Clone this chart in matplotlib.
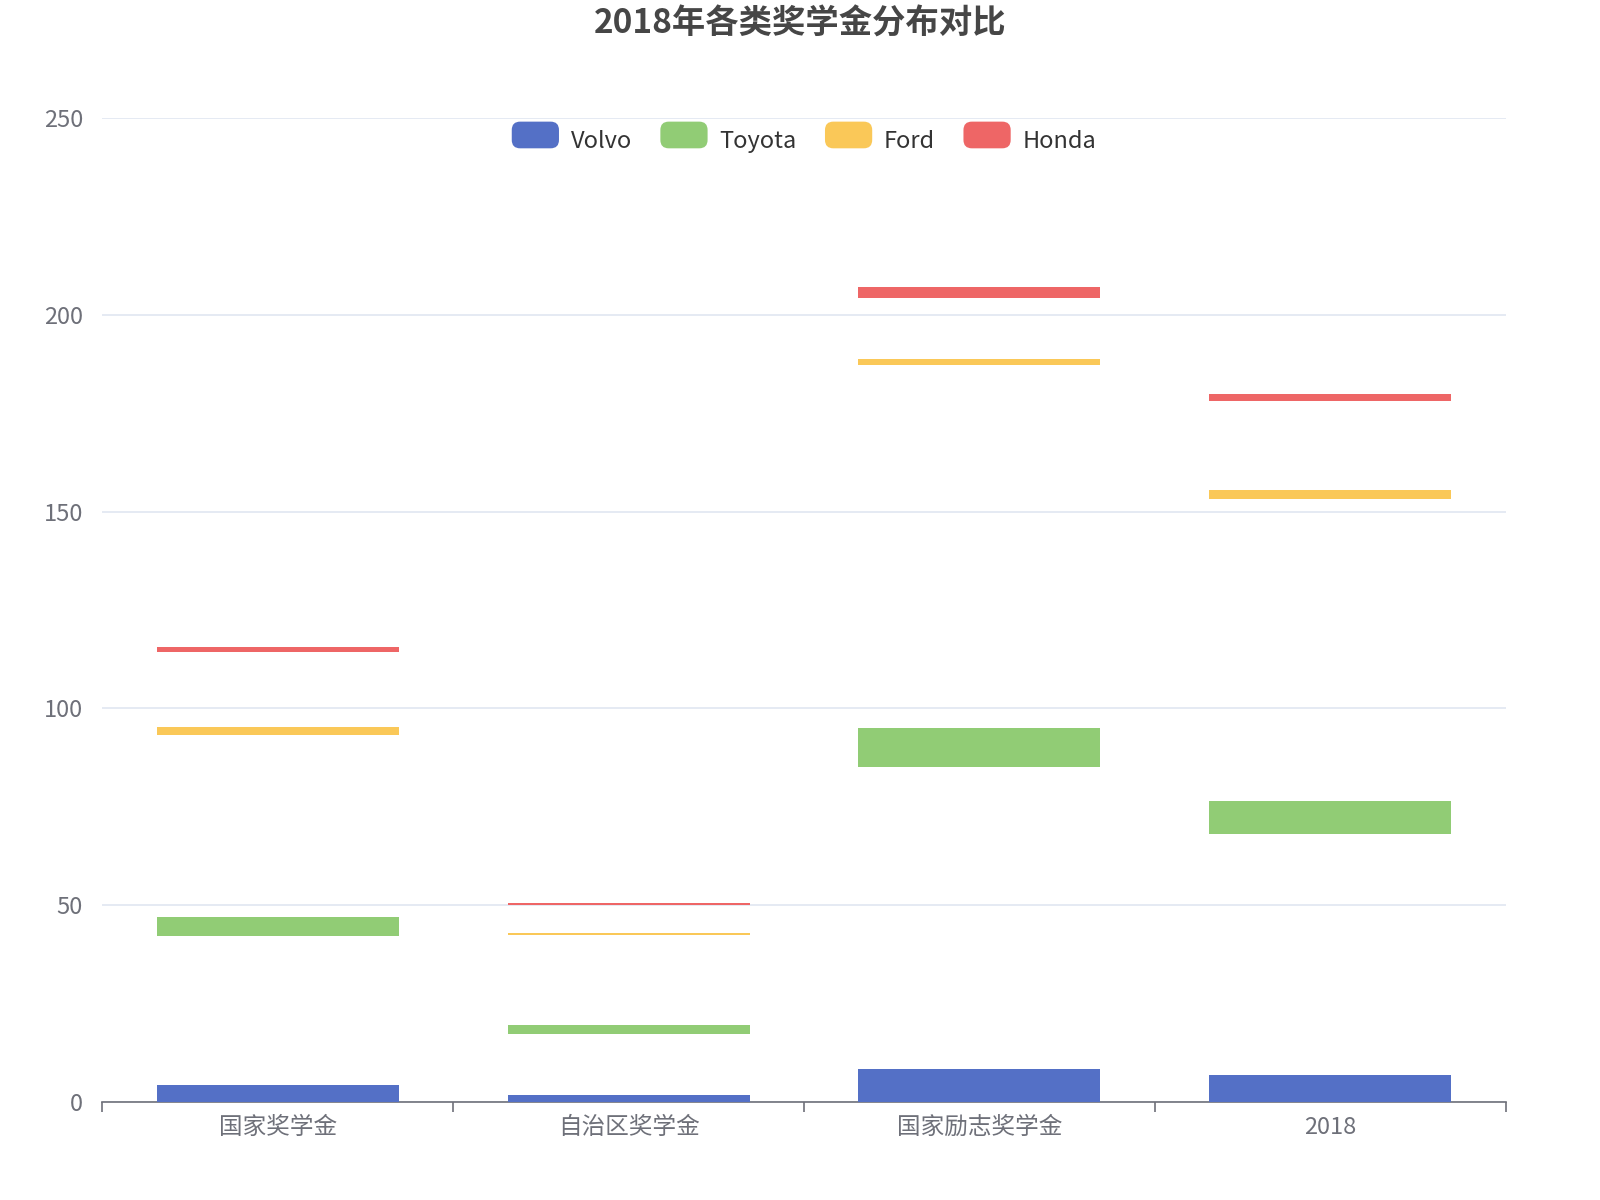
import matplotlib
matplotlib.use("Agg")
import matplotlib.pyplot as plt
from matplotlib.patches import FancyBboxPatch, Patch
from matplotlib.legend_handler import HandlerPatch

plt.rcParams['font.family'] = ['Noto Sans CJK SC', 'DejaVu Sans']

categories = ['国家奖学金', '自治区奖学金', '国家励志奖学金', '2018']
series = ['Volvo', 'Toyota', 'Ford', 'Honda']
colors = ['#5470c6', '#91cc75', '#fac858', '#ee6666']
bottoms = {
    'Volvo': [0, 0, 0, 0],
    'Toyota': [42.2, 17.3, 85.1, 68.1],
    'Ford': [93.2, 42.3, 187.2, 153.2],
    'Honda': [114.3, 50.0, 204.3, 178.1],
}
tops = {
    'Volvo': [4.3, 1.8, 8.4, 6.9],
    'Toyota': [47.0, 19.6, 95.0, 76.5],
    'Ford': [95.3, 42.9, 188.8, 155.5],
    'Honda': [115.6, 50.5, 207.1, 179.9],
}

fig = plt.figure(figsize=(16, 12), dpi=100)
ax = fig.add_axes([0.064, 0.0817, 0.877, 0.82])
x = list(range(len(categories)))
for s, c in zip(series, colors):
    h = [t - b for t, b in zip(tops[s], bottoms[s])]
    ax.bar(x, h, bottom=bottoms[s], width=0.69, color=c, edgecolor='none', linewidth=0, zorder=3)

ax.set_xlim(-0.5, 3.5)
ax.set_ylim(0, 250)
ax.set_yticks([0, 50, 100, 150, 200, 250])
ax.grid(axis='y', color='#e0e6f1', linewidth=1.2, zorder=0)
for sp in ['top', 'right', 'left']:
    ax.spines[sp].set_visible(False)
ax.spines['bottom'].set_color('#6e7079')
ax.spines['bottom'].set_linewidth(1.2)
ax.set_xticks(x)
ax.set_xticklabels(categories)
ax.set_xticks([-0.5, 0.5, 1.5, 2.5, 3.5], minor=True)
ax.tick_params(axis='x', which='major', length=0, pad=10, labelsize=17, labelcolor='#6e7079')
ax.tick_params(axis='x', which='minor', length=7, color='#6e7079', width=1.2)
ax.tick_params(axis='y', length=0, pad=14, labelsize=17, labelcolor='#6e7079')

class RoundHandler(HandlerPatch):
    def create_artists(self, legend, orig, xd, yd, w, h, fs, trans):
        p = FancyBboxPatch((xd, yd - 2), w, h + 4, boxstyle='round,pad=0,rounding_size=6',
                           facecolor=orig.get_facecolor(), edgecolor='none', transform=trans)
        return [p]

hs = [Patch(facecolor=c) for c in colors]
ax.legend(hs, series, loc='upper center', bbox_to_anchor=(0.5, 1.01), ncol=4, frameon=False,
          fontsize=17, handlelength=2.0, handleheight=1.0, columnspacing=1.2, handletextpad=0.5,
          labelcolor='#333333', handler_map={Patch: RoundHandler()})

fig.text(0.5, 0.98, '2018年各类奖学金分布对比', ha='center', va='center',
         fontsize=24, fontweight='bold', color='#464646')
fig.savefig('out.png')
